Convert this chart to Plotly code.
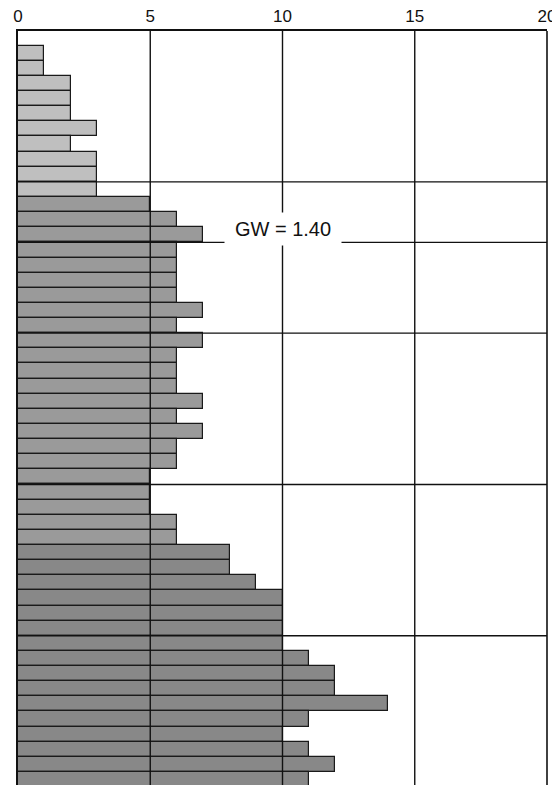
import plotly.graph_objects as go

# Counts per row (top to bottom)
counts = [1, 1, 2, 2, 2, 3, 2, 3, 3, 3,
          5, 6, 7, 6, 6, 6, 6, 7, 6, 7, 6, 6, 6, 7, 6, 7, 6, 6, 5, 5, 5, 6, 6,
          8, 8, 9, 10, 10, 10, 10, 11, 12, 12, 14, 11, 10, 11, 12, 11]
zones = ["A"] * 10 + ["B"] * 23 + ["C"] * 16
rows = list(range(len(counts)))
zone_colors = {"A": "#bfbfbf", "B": "#9a9a9a", "C": "#888888"}
boundaries = [8.5, 12.5, 18.5, 28.5, 38.5]
x_ticks = [0, 5, 10, 15, 20]
v_grid = [5, 10, 15]
label_text = "GW = 1.40"

fig = go.Figure()
fig.add_trace(go.Bar(
    x=counts, y=rows, orientation="h", width=1,
    marker=dict(color=[zone_colors[z] for z in zones],
                line=dict(color="#1a1a1a", width=1.2)),
    hoverinfo="skip", showlegend=False,
))

shapes = []
for b in boundaries:
    shapes.append(dict(type="line", xref="paper", yref="y", x0=0, x1=1, y0=b, y1=b,
                       line=dict(color="#111111", width=1.4), layer="above"))
for v in v_grid:
    shapes.append(dict(type="line", xref="x", yref="paper", x0=v, x1=v, y0=0, y1=1,
                       line=dict(color="#111111", width=1.4), layer="above"))
# right border
shapes.append(dict(type="line", xref="paper", yref="paper", x0=1, x1=1, y0=0, y1=1,
                   line=dict(color="#111111", width=1.6), layer="above"))

fig.update_layout(
    width=552, height=777,
    margin=dict(l=10, r=13, t=23, b=0),
    paper_bgcolor="white", plot_bgcolor="white",
    font=dict(family="Liberation Sans, Arial, Helvetica, sans-serif", color="#111111", size=17),
    bargap=0,
    shapes=shapes,
    xaxis=dict(side="top", range=[0, 20], tickvals=x_ticks, ticktext=[str(t) for t in x_ticks],
               showgrid=False, zeroline=False, showline=True, linecolor="#111111", linewidth=1.6,
               ticks="", tickfont=dict(size=17), fixedrange=True),
    yaxis=dict(range=[48.36, -1.47], showticklabels=False, showgrid=False, zeroline=False,
               showline=True, linecolor="#111111", linewidth=1.6, ticks=""),
    annotations=[dict(x=10, y=11.62, xref="x", yref="y", text=label_text, showarrow=False,
                      bgcolor="white", width=114, height=30, font=dict(size=20, color="#111111"),
                      xanchor="center", yanchor="middle")],
)

fig.write_html("out.html")
